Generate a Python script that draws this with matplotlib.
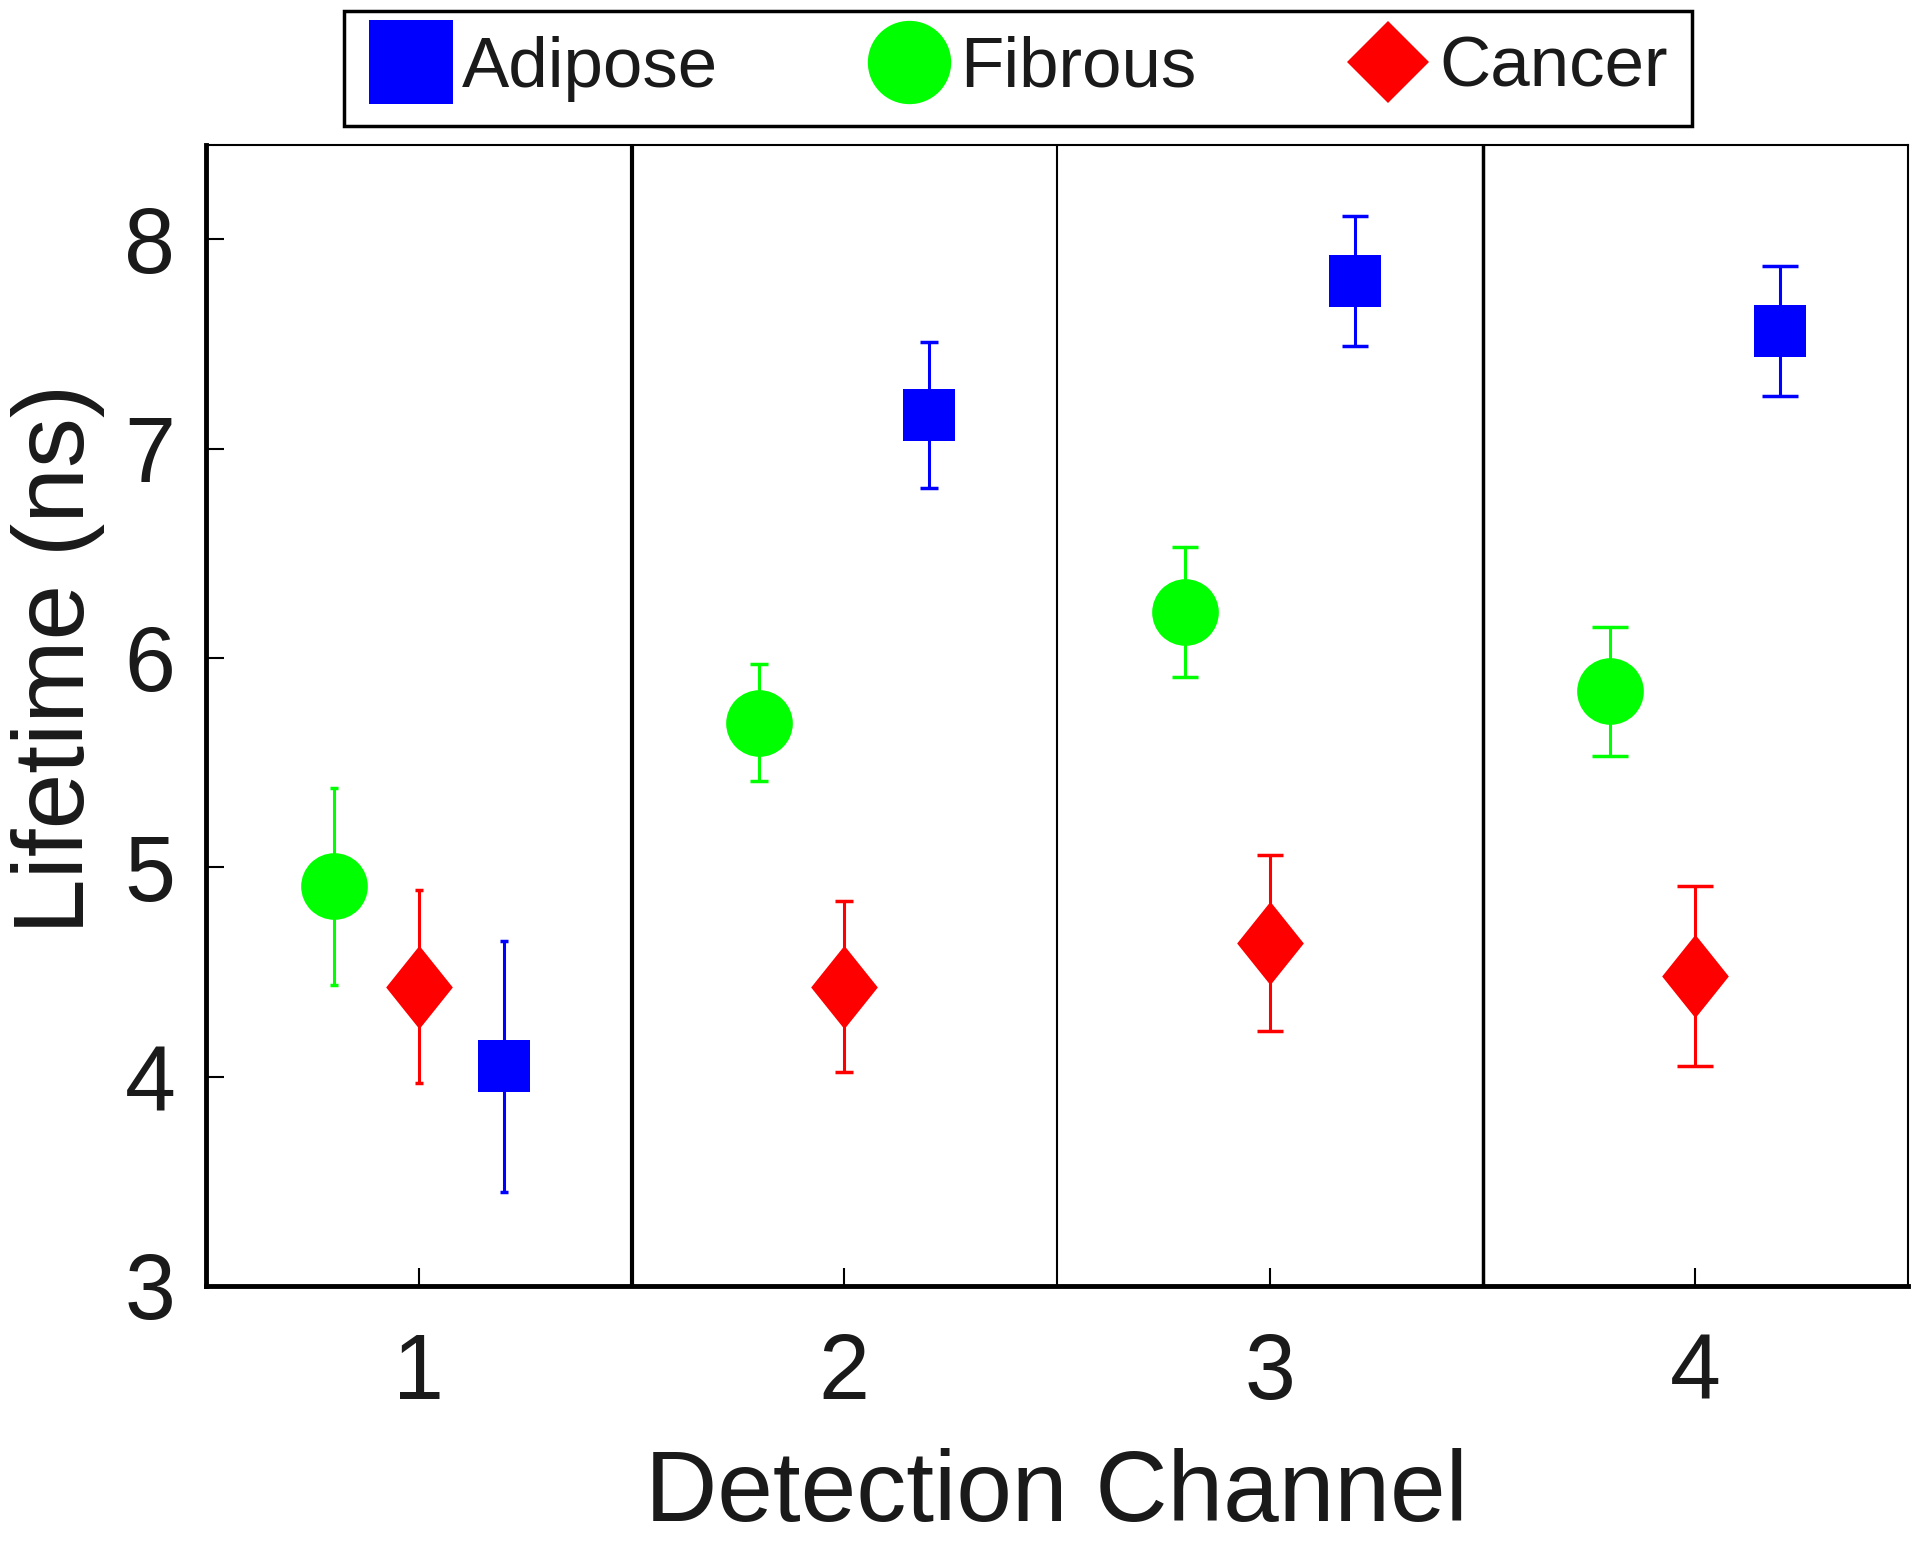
import numpy as np
import matplotlib
matplotlib.use("Agg")
import matplotlib.pyplot as plt
from matplotlib.path import Path
from matplotlib.lines import Line2D

plt.rcParams["font.family"] = ["Liberation Sans", "DejaVu Sans"]
plt.rcParams["text.color"] = "#1a1a1a"
plt.rcParams["xtick.labelcolor"] = "#1a1a1a"
plt.rcParams["ytick.labelcolor"] = "#1a1a1a"

CHANNELS = [1, 2, 3, 4]
GROUPS = ["Adipose", "Fibrous", "Cancer"]

ADIPOSE_MEAN = [4.05, 7.16, 7.80, 7.56]
ADIPOSE_ERR = [0.60, 0.35, 0.31, 0.31]
FIBROUS_MEAN = [4.91, 5.69, 6.22, 5.84]
FIBROUS_ERR = [0.47, 0.28, 0.31, 0.31]
CANCER_MEAN = [4.43, 4.43, 4.64, 4.48]
CANCER_ERR = [0.46, 0.41, 0.42, 0.43]

Y_TICKS = [3, 4, 5, 6, 7, 8]

# cap half-width grows with channel in the original figure
CAP_SIZES = [3.2, 6.5, 9.7, 13.0]

tall_diamond = Path(
    [(0, 1), (0.8, 0), (0, -1), (-0.8, 0), (0, 1)],
    [Path.MOVETO, Path.LINETO, Path.LINETO, Path.LINETO, Path.CLOSEPOLY],
)

series = [
    # name, mean, err, offset, color, marker, markersize
    ("Fibrous", FIBROUS_MEAN, FIBROUS_ERR, -0.2, "#00ff00", "o", 48),
    ("Cancer", CANCER_MEAN, CANCER_ERR, 0.0, "#ff0000", tall_diamond, 60),
    ("Adipose", ADIPOSE_MEAN, ADIPOSE_ERR, 0.2, "#0000ff", "s", 37),
]

W, H, DPI = 1920, 1542, 100
fig = plt.figure(figsize=(W / DPI, H / DPI), dpi=DPI)
ax = fig.add_axes([206 / W, 1 - 1286 / H, 1702 / W, 1141 / H])

for name, mean, err, off, color, marker, ms in series:
    for i, ch in enumerate(CHANNELS):
        ax.errorbar(
            ch + off,
            mean[i],
            yerr=err[i],
            fmt="none",
            ecolor=color,
            elinewidth=2.2,
            capsize=CAP_SIZES[i],
            capthick=2.5,
            zorder=2,
        )
    ax.plot(
        np.array(CHANNELS) + off,
        mean,
        linestyle="none",
        marker=marker,
        markersize=ms,
        color=color,
        markeredgewidth=0,
        zorder=3,
    )

ax.axvline(1.5, color="black", lw=3.0, zorder=1)
ax.axvline(2.5, color="black", lw=1.5, zorder=1)
ax.axvline(3.5, color="black", lw=2.5, zorder=1)

ax.set_xlim(0.5, 4.5)
ax.set_ylim(3, 8.45)
ax.set_xticks(CHANNELS)
ax.set_yticks(Y_TICKS)

ax.tick_params(axis="both", direction="in", length=13, width=1.5,
               labelsize=66, top=False, right=False)
ax.tick_params(axis="x", pad=33)
ax.tick_params(axis="y", pad=22)

ax.spines["left"].set_linewidth(3.5)
ax.spines["bottom"].set_linewidth(3.5)
ax.spines["top"].set_linewidth(1.5)
ax.spines["right"].set_linewidth(1.5)

fig.text(1056 / W, 1 - 1521 / H, "Detection Channel",
         ha="center", va="baseline", fontsize=72)
fig.text(105 / W, 1 - 659 / H, "Lifetime (ns)", rotation=90,
         ha="right", va="center", fontsize=72)

handles = [
    Line2D([], [], linestyle="none", marker="s", markersize=60,
           color="#0000ff", markeredgewidth=0),
    Line2D([], [], linestyle="none", marker="o", markersize=60,
           color="#00ff00", markeredgewidth=0),
    Line2D([], [], linestyle="none", marker="D", markersize=42,
           color="#ff0000", markeredgewidth=0),
]
leg = fig.legend(
    handles,
    GROUPS,
    loc="center",
    bbox_to_anchor=(1018 / W, 1 - 68.5 / H),
    ncol=3,
    fontsize=51,
    frameon=True,
    fancybox=False,
    edgecolor="black",
    framealpha=1,
    handlelength=1.2,
    handletextpad=0.12,
    columnspacing=2.1,
    borderpad=0.35,
    borderaxespad=0,
)
leg.get_frame().set_linewidth(2.5)

fig.savefig("out.png", dpi=DPI)
